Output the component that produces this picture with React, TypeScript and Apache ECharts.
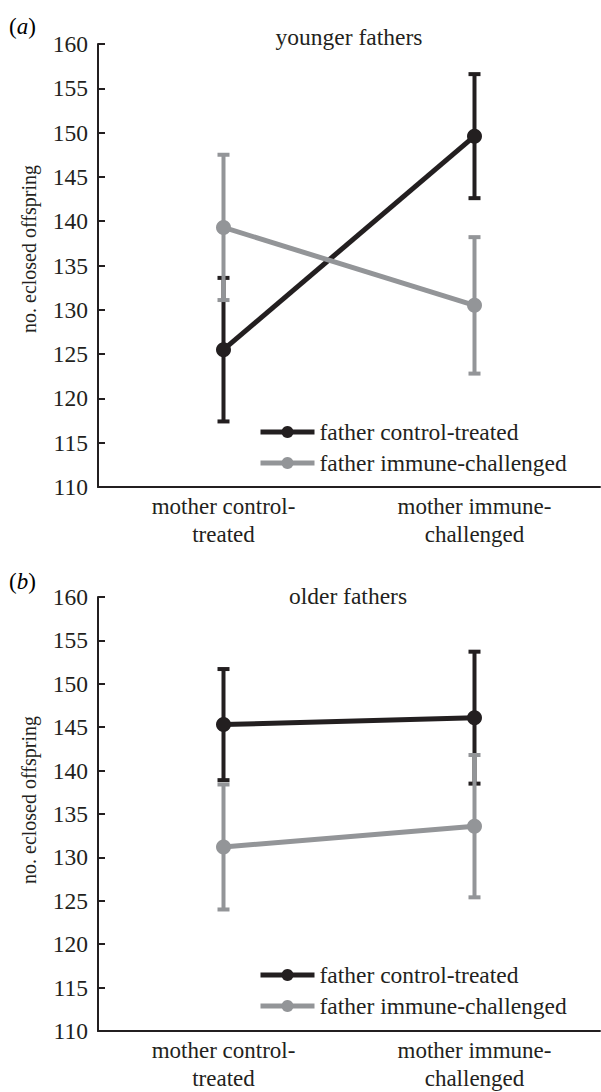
import React, { useEffect, useRef } from "react";
import * as echarts from "echarts";

const categories = ["mother control-\ntreated", "mother immune-\nchallenged"];
const seriesNames = ["father control-treated", "father immune-challenged"];
const yTicks = { min: 110, max: 160, interval: 5 };
const yName = "no. eclosed offspring";
const panelTitles = ["younger fathers", "older fathers"];

const youngerControl = [125.5, 149.6];
const youngerControlErr = [8.1, 7.0];
const youngerImmune = [139.3, 130.5];
const youngerImmuneErr = [8.2, 7.7];

const olderControl = [145.3, 146.1];
const olderControlErr = [6.4, 7.6];
const olderImmune = [131.2, 133.6];
const olderImmuneErr = [7.2, 8.2];

const BLACK = "#231f20";
const GRAY = "#939598";
const FONT = "'Liberation Serif', 'Times New Roman', 'DejaVu Serif', serif";

function errData(vals: number[], errs: number[]) {
  return vals.map((v, i) => [i, v - errs[i], v + errs[i]]);
}

function errSeries(id: string, vals: number[], errs: number[], color: string, idx: number, z: number) {
  return {
    type: "custom",
    id,
    name: id,
    xAxisIndex: idx,
    yAxisIndex: idx,
    z,
    encode: { x: 0, y: [1, 2] },
    data: errData(vals, errs),
    renderItem: (params: any, api: any) => {
      const x = api.value(0);
      const pLo = api.coord([x, api.value(1)]);
      const pHi = api.coord([x, api.value(2)]);
      const cap = 6;
      return {
        type: "group",
        children: [
          { type: "line", shape: { x1: pLo[0], y1: pLo[1], x2: pHi[0], y2: pHi[1] }, style: { stroke: color, lineWidth: 4 } },
          { type: "line", shape: { x1: pHi[0] - cap, y1: pHi[1], x2: pHi[0] + cap, y2: pHi[1] }, style: { stroke: color, lineWidth: 4 } },
          { type: "line", shape: { x1: pLo[0] - cap, y1: pLo[1], x2: pLo[0] + cap, y2: pLo[1] }, style: { stroke: color, lineWidth: 4 } },
        ],
      };
    },
  };
}

function lineSeries(name: string, vals: number[], color: string, idx: number, z: number) {
  return {
    type: "line",
    name,
    xAxisIndex: idx,
    yAxisIndex: idx,
    z,
    color,
    data: vals,
    symbol: "circle",
    symbolSize: 15,
    itemStyle: { color },
    lineStyle: { color, width: 5 },
  };
}

function xAxis(idx: number) {
  return {
    type: "category",
    gridIndex: idx,
    data: categories,
    boundaryGap: true,
    axisLine: { lineStyle: { color: BLACK, width: 2 } },
    axisTick: { inside: true, alignWithLabel: true, length: 5, lineStyle: { color: BLACK, width: 2 } },
    axisLabel: { fontFamily: FONT, fontSize: 23, color: BLACK, lineHeight: 28, margin: 5 },
  };
}

function yAxis(idx: number) {
  return {
    type: "value",
    gridIndex: idx,
    min: yTicks.min,
    max: yTicks.max,
    interval: yTicks.interval,
    splitLine: { show: false },
    axisLine: { show: true, lineStyle: { color: BLACK, width: 2 } },
    axisTick: { show: true, inside: true, length: 7, lineStyle: { color: BLACK, width: 2 } },
    axisLabel: { fontFamily: FONT, fontSize: 23.5, color: BLACK, margin: 10 },
  };
}

function legend(top: number) {
  return {
    data: seriesNames,
    orient: "vertical",
    left: 258,
    top,
    itemWidth: 54,
    itemHeight: 15,
    itemGap: 7,
    padding: 0,
    selectedMode: false,
    lineStyle: { width: 5 },
    textStyle: { fontFamily: FONT, fontSize: 23.5, lineHeight: 24, color: BLACK, padding: [0, 0, 0, 0] },
  };
}

const panelLabelRich = {
  n: { fontFamily: FONT, fontSize: 23, color: BLACK },
  i: { fontFamily: FONT, fontSize: 23, color: BLACK, fontStyle: "italic" },
};

function textAt(text: string, x: number, y: number, size: number, rotation = 0) {
  return {
    type: "text",
    x,
    y,
    rotation,
    style: { text, fontFamily: FONT, fontSize: size, fill: BLACK, align: "center", verticalAlign: "middle" },
  };
}

export default function App() {
  const ref = useRef<HTMLDivElement>(null);
  useEffect(() => {
    if (!ref.current) return;
    const chart = echarts.init(ref.current, null, { renderer: "svg" });
    chart.setOption({
      animation: false,
      backgroundColor: "#ffffff",
      grid: [
        { left: 98, top: 44, width: 502, height: 443 },
        { left: 98, top: 597, width: 502, height: 440 },
      ],
      xAxis: [xAxis(0), xAxis(1)],
      yAxis: [yAxis(0), yAxis(1)],
      legend: [legend(420), legend(963)],
      graphic: [
        { type: "text", x: 9, y: 26, style: { text: "{n|(}{i|a}{n|)}", rich: panelLabelRich, verticalAlign: "middle" } },
        { type: "text", x: 9, y: 581, style: { text: "{n|(}{i|b}{n|)}", rich: panelLabelRich, verticalAlign: "middle" } },
        textAt(panelTitles[0], 349, 37, 23.5),
        textAt(panelTitles[1], 348, 596, 23.5),
        textAt(yName, 29, 249, 20, Math.PI / 2),
        textAt(yName, 29, 800, 20, Math.PI / 2),
      ],
      series: [
        lineSeries(seriesNames[0], youngerControl, BLACK, 0, 3),
        lineSeries(seriesNames[1], youngerImmune, GRAY, 0, 5),
        lineSeries(seriesNames[0], olderControl, BLACK, 1, 3),
        lineSeries(seriesNames[1], olderImmune, GRAY, 1, 5),
        errSeries("errYC", youngerControl, youngerControlErr, BLACK, 0, 2),
        errSeries("errYI", youngerImmune, youngerImmuneErr, GRAY, 0, 4),
        errSeries("errOC", olderControl, olderControlErr, BLACK, 1, 2),
        errSeries("errOI", olderImmune, olderImmuneErr, GRAY, 1, 4),
      ],
    });
    return () => chart.dispose();
  }, []);
  return <div ref={ref} style={{ position: "absolute", left: 0, top: 0, width: 601, height: 1092 }} />;
}
